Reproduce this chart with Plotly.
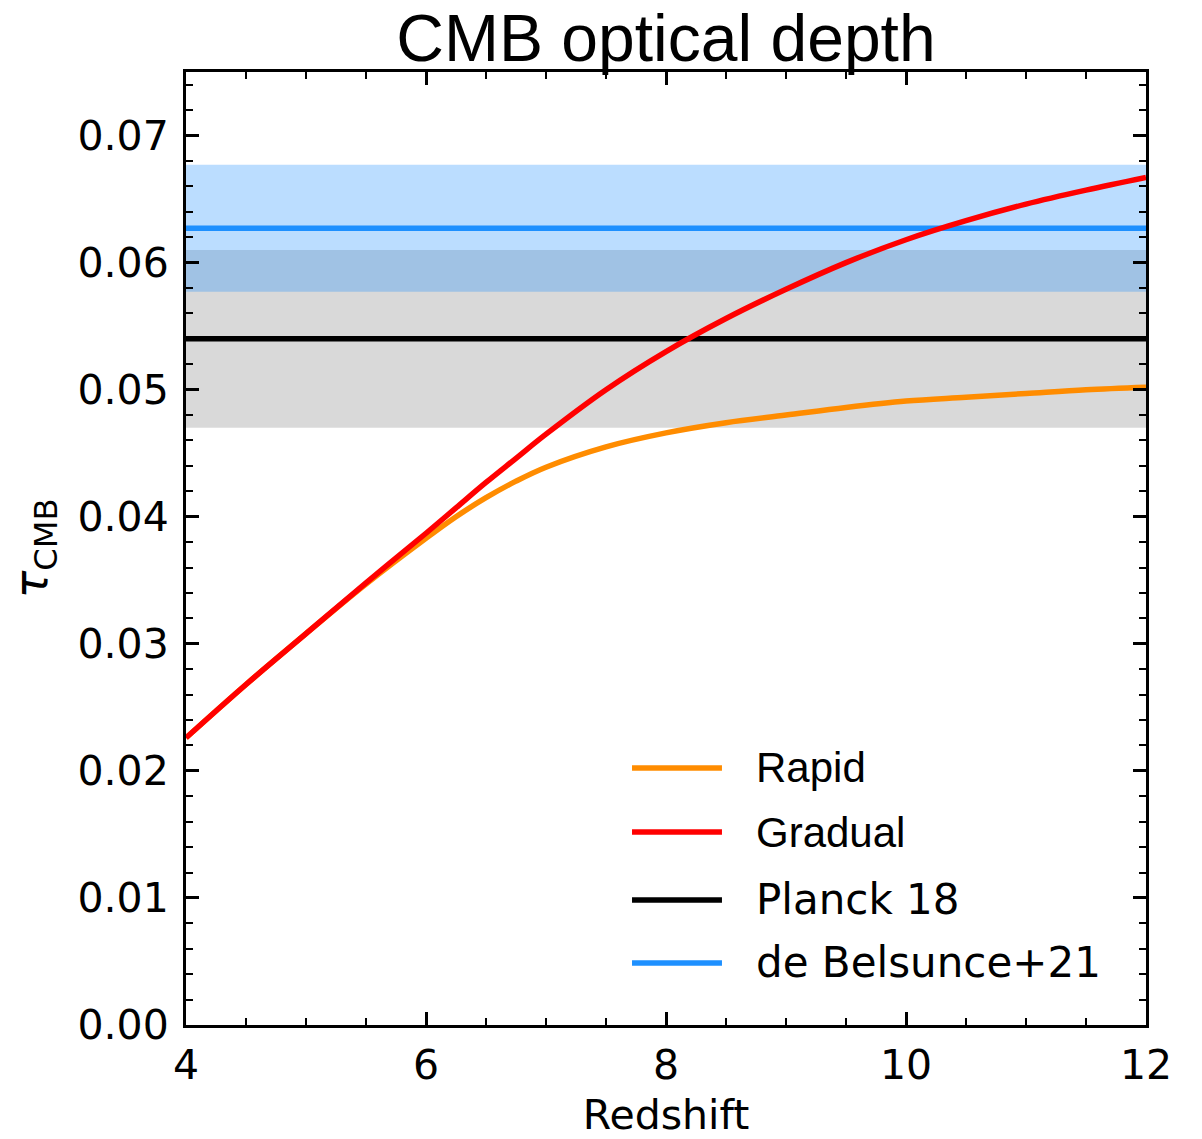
import plotly.graph_objects as go

# ---- data ----
redshift = [4.0, 4.5, 5.0, 5.5, 6.0, 6.25, 6.5, 6.75, 7.0, 7.5, 8.0, 8.5, 9.0, 9.5, 10.0, 10.5, 11.0, 11.5, 12.0]
tau_gradual = [0.0226, 0.0268, 0.0308, 0.0348, 0.0387, 0.0407, 0.0427, 0.0446, 0.0465, 0.0500, 0.0530,
               0.0556, 0.0579, 0.0600, 0.0618, 0.0633, 0.0646, 0.0657, 0.0667]
tau_rapid = [0.0226, 0.0268, 0.0308, 0.0347, 0.0383, 0.0400, 0.0415, 0.0428, 0.0439, 0.0455, 0.0466,
             0.0474, 0.0480, 0.0486, 0.0491, 0.0494, 0.0497, 0.0500, 0.0502]

planck_tau = 0.054
planck_err = 0.007
belsunce_tau = 0.0627
belsunce_err = 0.005

x_range = [4, 12]
y_range = [0, 0.075]

legend_labels = ["Rapid", "Gradual", "Planck 18", "de Belsunce+21"]
legend_colors = ["#ff8c00", "#ff0000", "#000000", "#1e90ff"]
legend_fonts = ["Liberation Sans", "Liberation Sans", "DejaVu Sans", "DejaVu Sans"]

fig = go.Figure()

# Bands
fig.add_trace(go.Scatter(
    x=[x_range[0], x_range[1], x_range[1], x_range[0]],
    y=[planck_tau - planck_err, planck_tau - planck_err, planck_tau + planck_err, planck_tau + planck_err],
    fill="toself", fillcolor="rgba(128,128,128,0.3)", line=dict(width=0), mode="lines",
    hoverinfo="skip", showlegend=False))
fig.add_trace(go.Scatter(
    x=[x_range[0], x_range[1], x_range[1], x_range[0]],
    y=[belsunce_tau - belsunce_err, belsunce_tau - belsunce_err, belsunce_tau + belsunce_err, belsunce_tau + belsunce_err],
    fill="toself", fillcolor="rgba(30,144,255,0.3)", line=dict(width=0), mode="lines",
    hoverinfo="skip", showlegend=False))

# Horizontal lines
fig.add_trace(go.Scatter(x=x_range, y=[planck_tau, planck_tau], mode="lines",
                         line=dict(color="#000000", width=5.5), name="Planck 18", showlegend=False))
fig.add_trace(go.Scatter(x=x_range, y=[belsunce_tau, belsunce_tau], mode="lines",
                         line=dict(color="#1e90ff", width=5.5), name="de Belsunce+21", showlegend=False))

# Curves
fig.add_trace(go.Scatter(x=redshift, y=tau_rapid, mode="lines", line=dict(color="#ff8c00", width=5.5, shape="spline"),
                         name="Rapid", showlegend=False))
fig.add_trace(go.Scatter(x=redshift, y=tau_gradual, mode="lines", line=dict(color="#ff0000", width=5.5, shape="spline"),
                         name="Gradual", showlegend=False))

# Manual legend (paper coords)
leg_y = [0.2697, 0.2025, 0.1312, 0.0651]
for lab, col, fnt, yy in zip(legend_labels, legend_colors, legend_fonts, leg_y):
    fig.add_shape(type="line", xref="paper", yref="paper", x0=0.4646, x1=0.5583, y0=yy, y1=yy,
                  line=dict(color=col, width=5.5))
    fig.add_annotation(xref="paper", yref="paper", x=0.5915, y=yy, text=lab, showarrow=False,
                       xanchor="left", yanchor="middle", font=dict(family=fnt, size=42, color="#000000"))

axis_common = dict(
    showline=True, linecolor="#000000", linewidth=3, mirror="allticks",
    ticks="inside", ticklen=13, tickwidth=2.5, tickcolor="#000000",
    showgrid=False, zeroline=False, automargin=False,
    tickfont=dict(family="DejaVu Sans", size=41, color="#000000"),
)

fig.update_xaxes(range=x_range, dtick=2, tick0=4,
                 minor=dict(ticks="inside", ticklen=7, tickwidth=2, tickcolor="#000000", dtick=0.5, showgrid=False),
                 title=dict(text="Redshift", font=dict(family="DejaVu Sans", size=41, color="#000000"), standoff=16),
                 ticklabelstandoff=2,
                 **axis_common)
fig.update_yaxes(range=y_range, dtick=0.01, tick0=0, tickformat=".2f",
                 minor=dict(ticks="inside", ticklen=7, tickwidth=2, tickcolor="#000000", dtick=0.002, showgrid=False),
                 title=dict(text="<i>τ</i><sub>CMB</sub>", font=dict(family="DejaVu Sans", size=46, color="#000000"), standoff=16),
                 ticklabelstandoff=6,
                 **axis_common)

fig.update_layout(
    width=1202, height=1139,
    margin=dict(l=186, r=56, t=72, b=114),
    paper_bgcolor="white", plot_bgcolor="white",
    title=dict(text="CMB optical depth", x=0.5, xanchor="center", xref="paper", y=0.967, yanchor="middle",
               font=dict(family="Liberation Sans", size=66, color="#000000")),
    showlegend=False,
)

fig.write_html("out.html")
